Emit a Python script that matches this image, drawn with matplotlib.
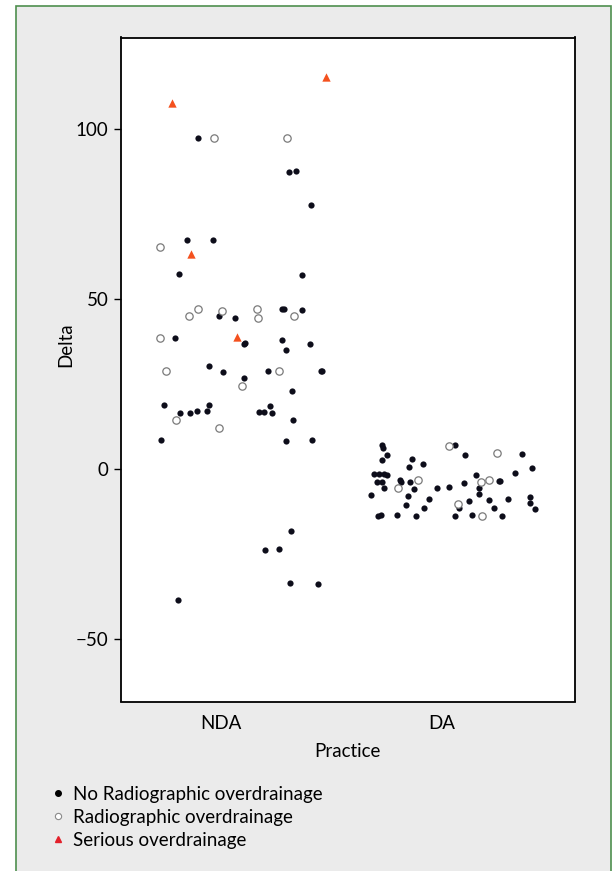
import numpy as np
import matplotlib
matplotlib.use('Agg')
import matplotlib.pyplot as plt
from matplotlib.patches import Rectangle
from matplotlib.lines import Line2D

plt.rcParams['font.family'] = ['Lato', 'DejaVu Sans']

categories = ['NDA', 'DA']

# NDA - no radiographic overdrainage (jitter around category, delta)
nda_no_jitter = [-0.104, 0.307, 0.339, 0.408, -0.154, -0.036, -0.189, 0.366, -0.008, 0.063,
                 0.275, 0.287, 0.366, -0.207, 0.275, 0.104, 0.107, 0.293, 0.402, -0.054,
                 0.009, 0.215, 0.454, 0.459, 0.103, 0.323, -0.260, -0.053, 0.221, -0.186,
                 -0.142, -0.107, -0.065, 0.172, 0.196, 0.233, 0.328, -0.273, 0.296, 0.414,
                 0.317, 0.198, 0.262, 0.312, 0.439, -0.196]
nda_no_delta = [97.3, 87.3, 87.6, 77.6, 67.3, 67.3, 57.4, 56.9, 44.9, 44.5,
                47.0, 47.1, 46.7, 38.6, 37.9, 36.7, 37.0, 34.9, 36.8, 30.4,
                28.6, 28.8, 28.7, 28.7, 26.7, 22.9, 18.8, 18.8, 18.4, 16.6,
                16.4, 16.9, 16.9, 16.8, 16.8, 16.6, 14.5, 8.6, 8.3, 8.4,
                -18.2, -23.8, -23.6, -33.6, -33.7, -38.4]

# NDA - radiographic overdrainage
nda_rad_jitter = [-0.033, 0.298, -0.278, -0.106, -0.144, 0.003, 0.163, 0.166, 0.332, -0.278,
                  -0.249, 0.263, 0.097, -0.204, -0.008]
nda_rad_delta = [97.3, 97.4, 65.2, 46.9, 45.1, 46.6, 47.1, 44.5, 45.1, 38.6,
                 28.7, 28.9, 24.3, 14.3, 12.1]

# NDA - serious overdrainage
nda_ser_jitter = [-0.221, 0.475, -0.135, 0.073]
nda_ser_delta = [107.7, 115.4, 63.1, 38.9]

# DA - no radiographic overdrainage
da_no_jitter = [-0.270, -0.264, 0.060, -0.249, 0.107, 0.365, -0.270, -0.132, -0.084, -0.147,
                0.410, -0.306, -0.283, -0.259, -0.249, 0.155, 0.333, -0.291, -0.268, -0.188,
                -0.182, -0.144, 0.102, 0.259, 0.267, -0.259, -0.125, -0.022, 0.033, 0.169,
                -0.321, -0.151, 0.169, -0.057, 0.126, 0.214, 0.302, 0.400, -0.161, 0.079,
                -0.078, 0.238, 0.403, 0.423, -0.289, -0.276, -0.203, -0.117, 0.061, 0.137,
                0.274]
da_no_delta = [6.9, 6.3, 6.9, 4.1, 4.2, 4.4, 2.6, 2.9, 1.4, 0.7,
               0.4, -1.6, -1.5, -1.6, -1.7, -1.9, -1.3, -3.8, -3.9, -3.3,
               -3.7, -3.9, -4.0, -3.4, -3.4, -5.7, -5.9, -5.5, -5.3, -5.5,
               -7.7, -7.9, -7.4, -8.7, -9.5, -9.0, -8.8, -8.3, -10.6, -11.6,
               -11.6, -11.4, -10.0, -11.9, -13.9, -13.6, -13.6, -13.7, -13.8, -13.5,
               -13.8]

# DA - radiographic overdrainage
da_rad_jitter = [0.032, 0.253, -0.105, 0.179, 0.215, -0.197, 0.076, 0.182]
da_rad_delta = [6.8, 4.8, -3.3, -3.8, -3.3, -5.5, -10.3, -13.7]

legend_labels = ['No Radiographic overdrainage', 'Radiographic overdrainage', 'Serious overdrainage']

fs = 13.5

fig = plt.figure(figsize=(6.13, 8.71), dpi=100)
fig.patch.set_facecolor('white')
fig.patches.append(Rectangle((16 / 613, -0.02), 595 / 613, 1.02 - 6 / 871,
                             transform=fig.transFigure, facecolor='#ebebeb',
                             edgecolor='#4e8f4e', linewidth=1.2, zorder=-5))

ax = fig.add_axes([121 / 613, 1 - 701.5 / 871, 453.5 / 613, 664 / 871])
ax.set_zorder(2)
ax.set_facecolor('white')

filled_kw = dict(s=20, color='#0d0d1a', linewidths=0, zorder=3)
open_kw = dict(s=28, facecolors='white', edgecolors='#7a7a7a', linewidths=0.9, zorder=4)
tri_kw = dict(s=36, marker='^', color='#f4511e', linewidths=0, zorder=5)

ax.scatter(1 + np.array(nda_no_jitter), nda_no_delta, **filled_kw)
ax.scatter(2 + np.array(da_no_jitter), da_no_delta, **filled_kw)
ax.scatter(1 + np.array(nda_rad_jitter), nda_rad_delta, **open_kw)
ax.scatter(2 + np.array(da_rad_jitter), da_rad_delta, **open_kw)
ax.scatter(1 + np.array(nda_ser_jitter), nda_ser_delta, **tri_kw)

ax.set_xlim(0.5465, 2.603)
ax.set_ylim(-68.4, 126.9)
ax.set_xticks([1, 2])
ax.set_xticklabels(categories)
ax.set_yticks([-50, 0, 50, 100])
ax.tick_params(axis='x', length=0, pad=10, labelsize=fs)
ax.tick_params(axis='y', length=5, width=1, pad=4, labelsize=fs)
for sp in ax.spines.values():
    sp.set_linewidth(1.3)
    sp.set_color('black')

ax.set_ylabel('Delta', fontsize=fs)
ax.yaxis.set_label_coords(-0.104, 0.538)
fig.text(347.7 / 613, 1 - 751 / 871, 'Practice', ha='center', va='center', fontsize=fs)

handles = [
    Line2D([], [], ls='', marker='o', markersize=4, color='black'),
    Line2D([], [], ls='', marker='o', markersize=4.5, markerfacecolor='white',
           markeredgecolor='#8a8a8a', markeredgewidth=0.8),
    Line2D([], [], ls='', marker='^', markersize=4, color='#e3202a'),
]
fig.legend(handles, legend_labels, loc='upper left', bbox_to_anchor=(50 / 613, 1 - 785.5 / 871),
           frameon=False, fontsize=fs, handlelength=0.8, handletextpad=0.45,
           labelspacing=0.33, borderpad=0, borderaxespad=0)

fig.savefig('out.png', dpi=100)
